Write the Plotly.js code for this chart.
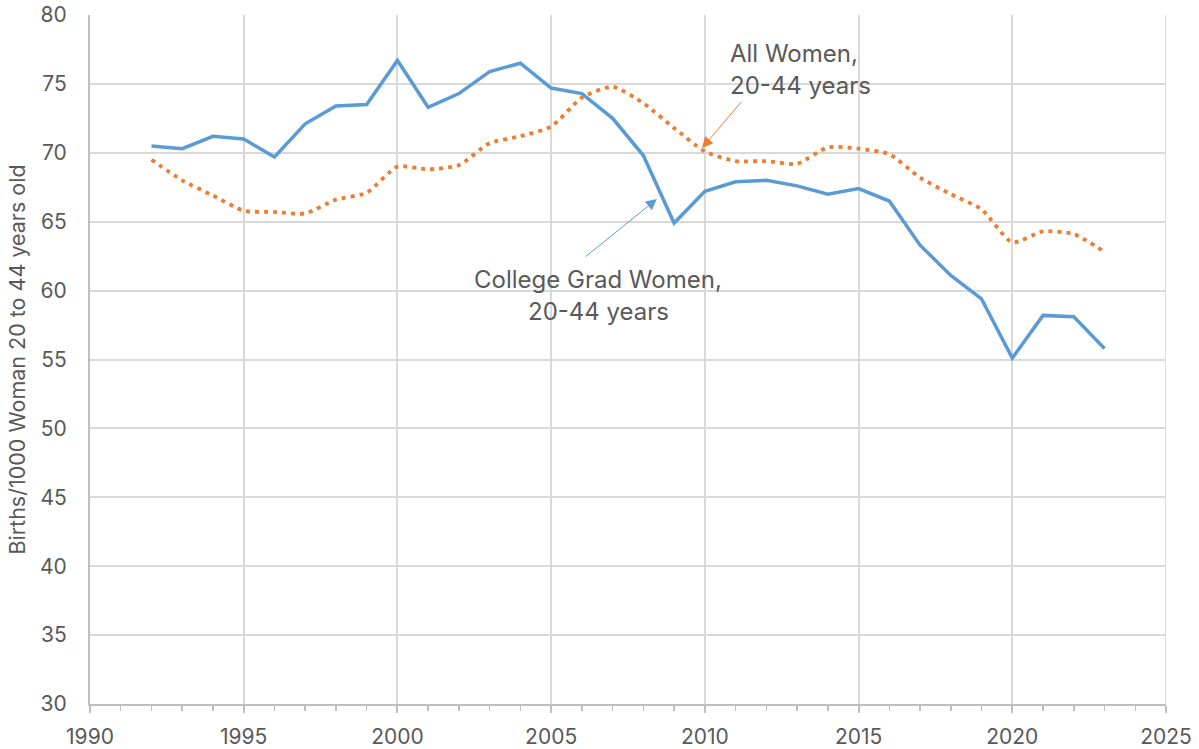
<!DOCTYPE html>
<html>
<head>
<meta charset="utf-8">
<script src="https://cdn.plot.ly/plotly-3.0.1.min.js"></script>
<style>html,body{margin:0;padding:0;background:#fff;}#chart{width:1199px;height:749px;}</style>
</head>
<body>
<div id="chart"></div>
<script>
const years = [1992,1993,1994,1995,1996,1997,1998,1999,2000,2001,2002,2003,2004,2005,2006,2007,2008,2009,2010,2011,2012,2013,2014,2015,2016,2017,2018,2019,2020,2021,2022,2023];
const collegeGrad = [70.5,70.3,71.2,71.0,69.7,72.1,73.4,73.5,76.7,73.3,74.3,75.9,76.5,74.7,74.3,72.5,69.8,64.9,67.2,67.9,68.0,67.6,67.0,67.4,66.5,63.3,61.1,59.4,55.1,58.2,58.1,55.8];
const allWomen = [69.5,68.0,66.9,65.8,65.7,65.6,66.6,67.1,69.0,68.8,69.1,70.7,71.2,71.9,74.0,74.8,73.6,71.8,70.1,69.4,69.4,69.2,70.4,70.3,69.9,68.2,67.0,65.9,63.5,64.3,64.1,62.8];
const xTicks = [1990,1995,2000,2005,2010,2015,2020,2025];
const yTicks = [30,35,40,45,50,55,60,65,70,75,80];

const txt = '#595959';
const fontFam = 'Inter, "Open Sans", sans-serif';
const grid = '#D9D9D9';

const traces = [
  {x: years, y: collegeGrad, type: 'scatter', mode: 'lines', name: 'College Grad Women, 20-44 years',
   line: {color: '#5B9BD5', width: 3.5}},
  {x: years, y: allWomen, type: 'scatter', mode: 'lines', name: 'All Women, 20-44 years',
   line: {color: '#ED7D31', width: 3.8, dash: '4px,5px', shape: 'spline', smoothing: 0.6}}
];

const layout = {
  width: 1199, height: 749,
  margin: {l: 90, r: 33, t: 15, b: 45},
  paper_bgcolor: '#fff', plot_bgcolor: '#fff',
  showlegend: false,
  font: {family: fontFam, color: txt, size: 21},
  xaxis: {
    range: [1990, 2025], tickvals: xTicks, ticktext: xTicks.map(String),
    showgrid: true, gridcolor: grid, gridwidth: 2,
    showline: true, linecolor: '#BFBFBF', linewidth: 2,
    ticks: 'outside', ticklen: 7, tickcolor: '#BFBFBF', tickwidth: 2,
    minor: {dtick: 1, tick0: 1990, ticks: 'outside', ticklen: 5, tickcolor: '#BFBFBF', tickwidth: 1.5, showgrid: false},
    ticklabelstandoff: 6,
    tickfont: {size: 21, color: txt}, zeroline: false, mirror: false
  },
  yaxis: {
    range: [30, 80], tickvals: yTicks,
    showgrid: true, gridcolor: grid, gridwidth: 2,
    showline: true, linecolor: '#BFBFBF', linewidth: 2,
    ticks: '', ticklabelstandoff: 17,
    tickfont: {size: 21, color: txt}, zeroline: false,
    title: {text: 'Births/1000 Woman 20 to 44 years old', font: {size: 21.5, color: txt}, standoff: 8}
  },
  shapes: [
    {type: 'line', xref: 'x', yref: 'paper', x0: 2025, x1: 2025, y0: 0, y1: 1, line: {color: grid, width: 2}}
  ],
  annotations: [
    {xref: 'x', yref: 'y', x: 2006.53, y: 60.77, text: 'College Grad Women,', showarrow: false, font: {size: 24, color: txt}, xanchor: 'center', yanchor: 'middle'},
    {xref: 'x', yref: 'y', x: 2006.53, y: 58.45, text: '20-44 years', showarrow: false, font: {size: 24, color: txt}, xanchor: 'center', yanchor: 'middle'},
    {xref: 'x', yref: 'y', x: 2010.75, y: 77.24, text: 'All Women,', showarrow: false, font: {size: 24, color: txt}, xanchor: 'left', yanchor: 'middle'},
    {xref: 'x', yref: 'y', x: 2010.75, y: 74.92, text: '20-44 years', showarrow: false, font: {size: 24, color: txt}, xanchor: 'left', yanchor: 'middle'},
    {xref: 'x', yref: 'y', axref: 'x', ayref: 'y', x: 2008.44, y: 66.65, ax: 2006.07, ay: 62.37, text: '', showarrow: true,
     arrowhead: 2, arrowsize: 2.2, arrowwidth: 1, arrowcolor: '#5B9BD5', standoff: 0, startstandoff: 0},
    {xref: 'x', yref: 'y', axref: 'x', ayref: 'y', x: 2009.91, y: 70.35, ax: 2011.24, ay: 73.83, text: '', showarrow: true,
     arrowhead: 2, arrowsize: 2.2, arrowwidth: 1, arrowcolor: '#ED7D31', standoff: 0, startstandoff: 0}
  ]
};

Plotly.newPlot('chart', traces, layout, {displayModeBar: false, staticPlot: true});
</script>
</body>
</html>
